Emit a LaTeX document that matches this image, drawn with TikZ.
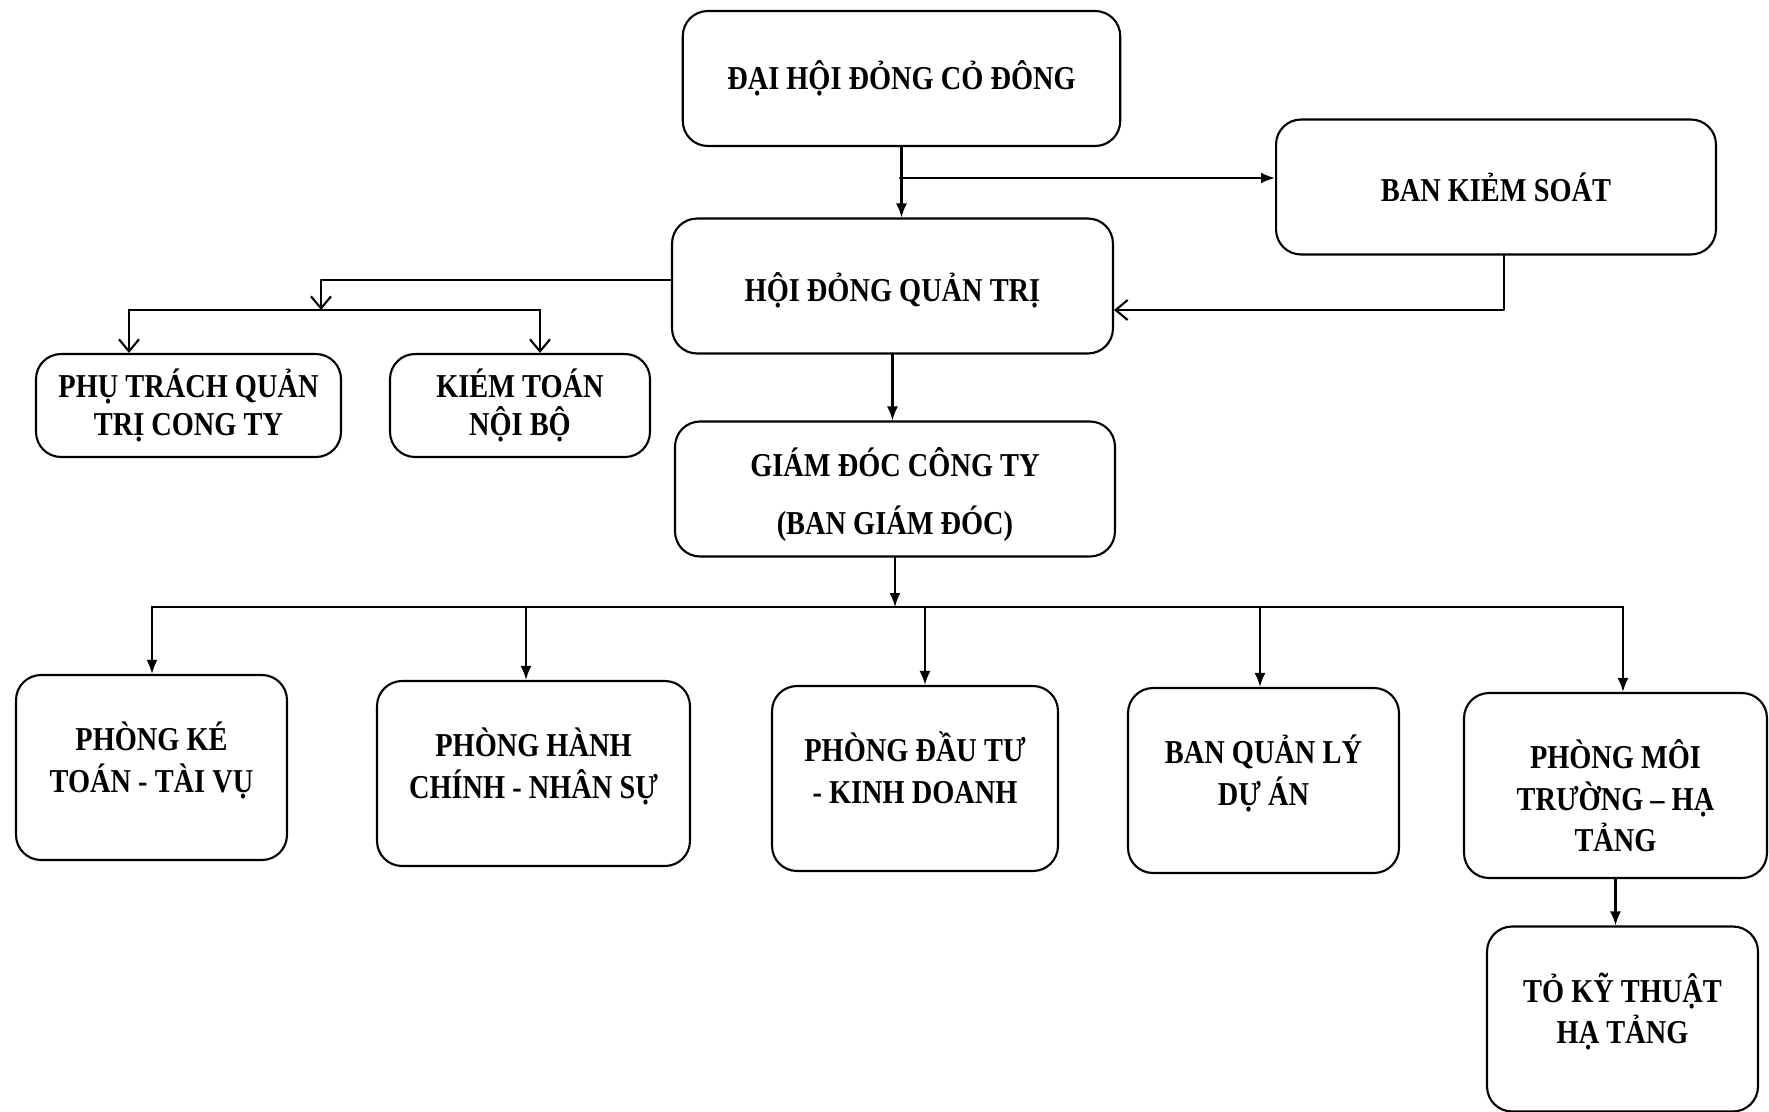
\documentclass[tikz,border=0pt]{standalone}
\usepackage{fontspec}
\setmainfont{Liberation Serif}[FakeStretch=0.85]
\usetikzlibrary{arrows.meta}

% department text: starts at a fixed depth below the top edge
\newcommand{\dlines}[1]{\parbox[c][3.3cm][t]{5.2cm}{\centering\rule{0pt}{1.31cm}#1}}

\tikzset{
  box/.style={draw, rounded corners=0.5cm, line width=1.2pt, align=center,
    font=\bfseries\fontsize{19}{23.7}\selectfont},
  topbox/.style={box, minimum width=8.75cm, minimum height=2.7cm},
  subbox/.style={box, minimum height=2.06cm, font=\bfseries\fontsize{19}{21.6}\selectfont},
  dept/.style={box, minimum height=3.7cm, inner sep=0pt},
  farr/.style={line width=1.2pt, -{Latex[length=2.8mm,width=2.2mm]}},
  oarr/.style={line width=1.2pt, -{Straight Barb[length=2.4mm,width=4mm]}}
}

\begin{document}
\begin{tikzpicture}[x=0.02cm, y=-0.02cm, line cap=round, line join=round]
  \useasboundingbox (0,0) rectangle (1769,1112);

  % ---------- upper levels ----------
  \node[topbox] (dhd)  at (901.5,78.5) {ĐẠI HỘI ĐỎNG CỎ ĐÔNG};
  \node[topbox, minimum width=8.8cm] (bks) at (1496,187) {BAN KIẺM SOÁT};
  \node[topbox, minimum width=8.82cm] (hdqt) at (892.5,286) {\rule{0pt}{0.75cm}HỘI ĐỎNG QUẢN TRỊ};
  \node[topbox, minimum width=8.8cm] (gd) at (895,489)
    {\rule{0pt}{0.8cm}GIÁM ĐÓC CÔNG TY\\[9pt](BAN GIÁM ĐÓC)};

  \node[subbox, minimum width=6.1cm] (phutrach) at (188.5,405.5) {PHỤ TRÁCH QUẢN\\TRỊ CONG TY};
  \node[subbox, minimum width=5.2cm] (kiemtoan) at (520,405.5) {KIÉM TOÁN\\NỘI BỘ};

  \draw[farr] (dhd.south) -- (dhd.south |- hdqt.north);
  \coordinate (j1) at (900,178);
  \draw[farr] (j1) -- (j1 -| bks.west);
  \coordinate (j2) at (1504,310);
  \draw[oarr] (bks.south -| j2) -- (j2) -- (j2 -| hdqt.east);
  \draw[farr] (hdqt.south) -- (hdqt.south |- gd.north);

  % hdqt -> phu trach, kiem toan
  \coordinate (b0) at (321,310);
  \coordinate (b1) at (129,310);
  \coordinate (b2) at (540,310);
  \draw[oarr] ([yshift=0.12cm]hdqt.west) -| (b0);
  \draw[line width=1.2pt] (b1) -- (b2);
  \draw[oarr] (b1) -- (b1 |- phutrach.north);
  \draw[oarr] (b2) -- (b2 |- kiemtoan.north);

  % ---------- departments ----------
  \node[dept, minimum width=5.42cm] (ketoan) at (151.5,767.5) {\dlines{PHÒNG KÉ\\TOÁN - TÀI VỤ}};
  \node[dept, minimum width=6.26cm] (hanhchinh) at (533.5,773.5) {\dlines{PHÒNG HÀNH\\CHÍNH - NHÂN SỰ}};
  \node[dept, minimum width=5.72cm] (dautu) at (915,778.5) {\dlines{PHÒNG ĐẦU TƯ\\- KINH DOANH}};
  \node[dept, minimum width=5.42cm] (bqlda) at (1263.5,780.5) {\dlines{BAN QUẢN LÝ\\DỰ ÁN}};
  \node[dept, minimum width=6.06cm] (moitruong) at (1615.5,785.5) {\dlines{PHÒNG MÔI\\TRƯỜNG – HẠ\\TẢNG}};
  \node[dept, minimum width=5.42cm] (tokt) at (1622.5,1019) {\dlines{TỎ KỸ THUẬT\\HẠ TẢNG}};

  \coordinate (bus) at (891,607);
  \draw[farr] (gd.south) -- (gd.south |- bus);
  \draw[line width=1.2pt] (152,607) -- (1623,607);
  \foreach \d/\x in {ketoan/152,hanhchinh/526,dautu/925,bqlda/1260,moitruong/1623}
    \draw[farr] (\x,607) -- (\x,0 |- \d.north);
  \draw[farr] (moitruong.south) -- (moitruong.south |- tokt.north);
\end{tikzpicture}
\end{document}
